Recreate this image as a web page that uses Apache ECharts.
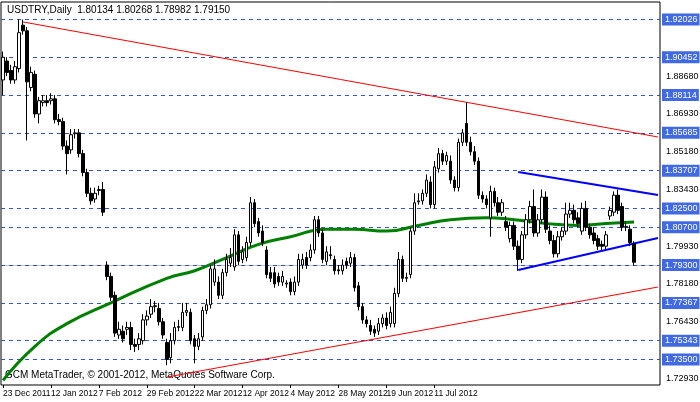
<!DOCTYPE html>
<html><head><meta charset="utf-8">
<script src="https://cdn.jsdelivr.net/npm/echarts@6/dist/echarts.min.js"></script>
<style>html,body{margin:0;padding:0;background:#fff}#c{width:700px;height:402px}</style>
</head><body><div id="c"></div>
<script>
const opens=[1.888,1.898,1.893,1.888,1.894,1.917,1.914,1.884,1.891,1.870,
1.876,1.877,1.877,1.878,1.867,1.866,1.853,1.851,1.8595,1.860,
1.849,1.839,1.828,1.825,1.8295,1.830,1.790,1.784,1.774,1.753,
1.755,1.756,1.757,1.748,1.748,1.750,1.761,1.764,1.768,1.767,
1.760,1.749,1.741,1.750,1.757,1.757,1.765,1.765,1.751,1.747,
1.752,1.766,1.769,1.781,1.781,1.774,1.786,1.791,1.789,1.806,
1.793,1.794,1.802,1.823,1.813,1.808,1.798,1.786,1.786,1.784,
1.781,1.780,1.781,1.776,1.781,1.790,1.794,1.794,1.798,1.814,
1.807,1.792,1.7955,1.793,1.7875,1.787,1.792,1.791,1.794,1.779,
1.768,1.761,1.758,1.756,1.755,1.759,1.762,1.759,1.759,1.775,
1.793,1.783,1.785,1.808,1.8235,1.824,1.828,1.834,1.822,1.841,
1.849,1.845,1.845,1.835,1.831,1.855,1.865,1.855,1.850,1.845,
1.827,1.825,1.815,1.829,1.823,1.818,1.813,1.804,1.811,1.800,
1.793,1.806,1.814,1.821,1.807,1.814,1.826,1.808,1.803,1.796,
1.805,1.808,1.817,1.819,1.815,1.808,1.820,1.810,1.807,1.804,
1.801,1.800,1.816,1.818,1.827,1.821,1.810,1.809,1.80134];
const closes=[1.900,1.892,1.888,1.895,1.913,1.914,1.887,1.892,1.870,1.877,
1.877,1.876,1.878,1.867,1.866,1.853,1.849,1.859,1.860,1.849,
1.839,1.828,1.824,1.828,1.830,1.818,1.784,1.773,1.754,1.756,
1.751,1.757,1.748,1.747,1.751,1.761,1.763,1.768,1.7685,1.760,
1.753,1.740,1.750,1.757,1.7575,1.765,1.766,1.750,1.747,1.751,
1.766,1.769,1.788,1.788,1.774,1.786,1.793,1.794,1.806,1.792,
1.797,1.802,1.823,1.812,1.807,1.802,1.785,1.783,1.780,1.781,
1.784,1.7805,1.776,1.781,1.793,1.793,1.790,1.798,1.814,1.807,
1.793,1.797,1.795,1.787,1.787,1.790,1.790,1.794,1.778,1.768,
1.761,1.759,1.755,1.754,1.759,1.762,1.758,1.765,1.775,1.793,
1.783,1.7835,1.808,1.823,1.824,1.828,1.835,1.822,1.842,1.849,
1.845,1.848,1.835,1.831,1.855,1.860,1.855,1.850,1.845,1.827,
1.825,1.822,1.829,1.823,1.818,1.823,1.810,1.811,1.800,1.793,
1.806,1.814,1.821,1.807,1.814,1.826,1.809,1.803,1.796,1.805,
1.808,1.817,1.819,1.814,1.812,1.820,1.810,1.806,1.803,1.800,
1.800,1.806,1.819,1.827,1.819,1.810,1.8105,1.802,1.7915];
const highs=[1.903,1.900,1.896,1.898,1.920,1.920,1.916,1.895,1.893,1.879,
1.880,1.880,1.881,1.880,1.870,1.868,1.856,1.862,1.862,1.862,
1.851,1.841,1.831,1.831,1.832,1.834,1.792,1.786,1.776,1.760,
1.758,1.760,1.760,1.751,1.754,1.764,1.766,1.772,1.771,1.770,
1.762,1.751,1.754,1.760,1.761,1.770,1.770,1.767,1.753,1.754,
1.768,1.772,1.790,1.793,1.784,1.788,1.796,1.799,1.809,1.808,
1.800,1.805,1.826,1.825,1.815,1.811,1.800,1.789,1.789,1.786,
1.787,1.782,1.783,1.784,1.796,1.796,1.797,1.801,1.816,1.816,
1.809,1.800,1.800,1.795,1.790,1.793,1.794,1.797,1.796,1.781,
1.770,1.763,1.761,1.758,1.762,1.764,1.765,1.768,1.778,1.797,
1.795,1.786,1.810,1.828,1.828,1.830,1.838,1.837,1.845,1.852,
1.851,1.850,1.848,1.837,1.857,1.862,1.876,1.858,1.853,1.847,
1.829,1.827,1.832,1.831,1.826,1.825,1.816,1.813,1.813,1.803,
1.808,1.817,1.824,1.830,1.817,1.830,1.829,1.811,1.806,1.808,
1.810,1.823,1.823,1.822,1.818,1.823,1.824,1.812,1.810,1.806,
1.803,1.808,1.821,1.829,1.830,1.823,1.813,1.811,1.80268];
const lows=[1.880,1.890,1.886,1.886,1.892,1.912,1.856,1.882,1.868,1.865,
1.874,1.874,1.875,1.865,1.864,1.851,1.838,1.849,1.857,1.847,
1.837,1.826,1.822,1.823,1.827,1.816,1.782,1.771,1.752,1.751,
1.749,1.753,1.745,1.744,1.745,1.748,1.758,1.762,1.765,1.758,
1.751,1.737,1.738,1.748,1.755,1.755,1.763,1.748,1.738,1.745,
1.750,1.764,1.767,1.779,1.772,1.772,1.784,1.789,1.787,1.790,
1.791,1.792,1.800,1.810,1.805,1.800,1.783,1.781,1.778,1.779,
1.779,1.778,1.774,1.774,1.779,1.788,1.788,1.792,1.796,1.805,
1.791,1.790,1.793,1.785,1.785,1.785,1.788,1.789,1.776,1.766,
1.759,1.757,1.753,1.752,1.753,1.757,1.756,1.757,1.757,1.773,
1.781,1.781,1.783,1.806,1.822,1.822,1.826,1.820,1.820,1.839,
1.843,1.843,1.833,1.829,1.829,1.853,1.853,1.848,1.843,1.825,
1.823,1.820,1.805,1.821,1.816,1.816,1.808,1.802,1.798,1.787,
1.791,1.804,1.812,1.805,1.805,1.812,1.807,1.801,1.794,1.794,
1.803,1.806,1.815,1.812,1.810,1.806,1.808,1.804,1.801,1.798,
1.798,1.798,1.814,1.816,1.817,1.808,1.808,1.800,1.78982];
const dateLabels={0:'23 Dec 2011',12:'12 Jan 2012',24:'7 Feb 2012',36:'29 Feb 2012',48:'22 Mar 2012',60:'12 Apr 2012',72:'4 May 2012',84:'28 May 2012',96:'19 Jun 2012',108:'11 Jul 2012'};
const maPoints=[[0,1.729],[8,1.747],[16,1.759],[27,1.770],[41,1.783],[48,1.787],[56,1.794],[64,1.801],[72,1.805],[81,1.809],[88,1.809],[96,1.808],[104,1.811],[112,1.814],[121,1.815],[128,1.814],[136,1.812],[144,1.811],[151,1.812],[158,1.8128]];
const redUpper=[[5,1.9187],[164,1.8578]];
const redLower=[[41,1.7307],[164,1.7784]];
const blueUpper=[[129,1.8393],[164,1.8271]];
const blueLower=[[129,1.7874],[164,1.8043]];
const levels=[1.92026,1.90452,1.88114,1.85685,1.83707,1.82500,1.80700,1.79300,1.77367,1.75343,1.73500];
const scaleTicks=[1.88680,1.86930,1.85180,1.83430,1.81680,1.79930,1.78180,1.76430,1.74680,1.72930];
const bid=1.79150;
const header='USDTRY,Daily  1.80134 1.80268 1.78982 1.79150';
const copyright='GCM MetaTrader, © 2001-2012, MetaQuotes Software Corp.';

const N=165;
const cats=[];for(let i=0;i<N;i++)cats.push(dateLabels[i]||'');
const ohlc=opens.map((o,i)=>[o,closes[i],lows[i],highs[i]]);
const F="'Liberation Sans', sans-serif";
const FS=10, FA=9;
const ml=[];
scaleTicks.forEach(v=>ml.push({yAxis:v,lineStyle:{color:'rgba(0,0,0,0)',width:0},label:{show:true,position:'end',distance:6,formatter:v.toFixed(5),color:'#000',fontSize:FA,fontFamily:F}}));
ml.push({yAxis:bid,lineStyle:{color:'#c0c0c0',type:'solid',width:1},label:{show:true,position:'end',distance:2,formatter:bid.toFixed(5),color:'#fff',backgroundColor:'#000',padding:[1,2],fontSize:FA,fontFamily:F}});
levels.forEach(v=>ml.push({yAxis:v,lineStyle:{color:'#3050d8',type:[4,4],width:1},label:{show:true,position:'end',distance:2,formatter:v.toFixed(5),color:'#fff',backgroundColor:'#4169e1',padding:[2,2,1,3],fontSize:FA,fontFamily:F}}));
const chart=echarts.init(document.getElementById('c'));
const lineS=(d,c,w)=>({type:'line',data:d,symbol:'none',silent:true,lineStyle:{color:c,width:w},z:3});
chart.setOption({
 animation:false,
 grid:{left:1,right:40,top:2,bottom:17,show:true,borderColor:'#000',borderWidth:1,backgroundColor:'#fff'},
 xAxis:{type:'category',data:cats,boundaryGap:true,
  axisLine:{show:false},
  axisTick:{show:true,length:3,lineStyle:{color:'#000'},alignWithLabel:true,interval:(i)=>!!dateLabels[i]},
  axisLabel:{interval:0,formatter:(v)=>v,showMinLabel:true,hideOverlap:false,align:'left',margin:4,color:'#000',fontSize:8.5,fontFamily:F}},
 yAxis:{type:'value',min:1.72653,max:1.92926,position:'right',splitLine:{show:false},axisLabel:{show:false},axisTick:{show:false},axisLine:{show:false}},
 graphic:[
  {type:'text',left:7,top:5,style:{text:header,font:FS+"px "+F,fill:'#000'}},
  {type:'text',left:5,top:370,style:{text:copyright,font:FS+"px "+F,fill:'#000'}}
 ],
 series:[
  {type:'candlestick',data:ohlc,barWidth:3,silent:true,z:4,
   itemStyle:{color:'#fff',color0:'#000',borderColor:'#000',borderColor0:'#000',borderWidth:1},
   markLine:{symbol:'none',silent:true,animation:false,data:ml,z:1}},
  Object.assign(lineS(maPoints,'#008000',3),{smooth:true}),
  lineS(redUpper,'#ff0000',1),
  lineS(redLower,'#ff0000',1),
  lineS(blueUpper,'#0000ff',2),
  lineS(blueLower,'#0000ff',2)
 ]
});
</script></body></html>
